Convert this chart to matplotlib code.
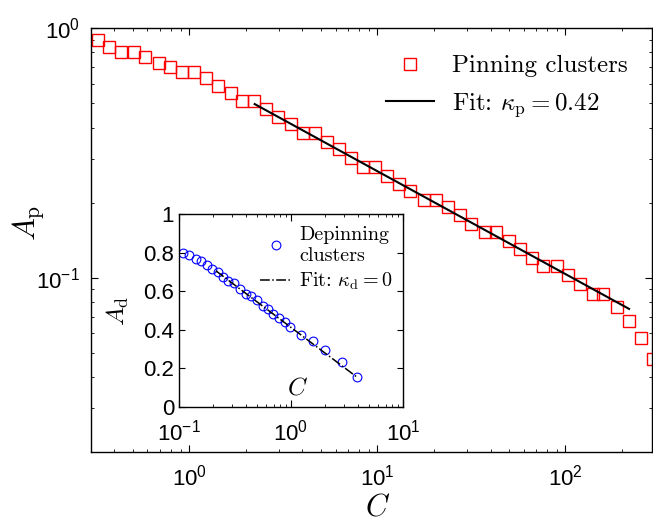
import numpy as np
import matplotlib
matplotlib.use("Agg")
import matplotlib.pyplot as plt
from matplotlib.ticker import FixedLocator, FuncFormatter, LogLocator, NullFormatter

plt.rcParams["font.family"] = ["Liberation Sans", "DejaVu Sans"]
plt.rcParams["mathtext.fontset"] = "cm"

# Pinning clusters (main panel, log-log)
pin_C = [0.327, 0.376, 0.436, 0.507, 0.582, 0.689, 0.793, 0.915, 1.055, 1.222,
         1.415, 1.66, 1.92, 2.22, 2.56, 2.97, 3.46, 4.03, 4.66, 5.38,
         6.25, 7.21, 8.42, 9.70, 11.3, 13.0, 15.0, 17.7, 20.4, 23.7,
         27.4, 31.6, 37.2, 42.7, 49.9, 57.5, 66.4, 76.4, 90.0, 103.7,
         119.7, 139.7, 159.1, 187.5, 217.9, 251.3, 293.0]
pin_A = [0.898, 0.844, 0.801, 0.801, 0.765, 0.728, 0.700, 0.668, 0.668, 0.630,
         0.586, 0.552, 0.511, 0.511, 0.475, 0.442, 0.412, 0.380, 0.380, 0.351,
         0.327, 0.301, 0.279, 0.279, 0.257, 0.238, 0.222, 0.205, 0.205, 0.192,
         0.179, 0.164, 0.152, 0.152, 0.141, 0.131, 0.1205, 0.112, 0.112, 0.1027,
         0.0946, 0.0860, 0.0860, 0.0762, 0.0674, 0.0576, 0.0472]
fit_p_C = [2.23, 217.8]
fit_p_A = [0.497, 0.0751]

# Depinning clusters (inset, semilog x)
dep_C = [0.109, 0.123, 0.141, 0.156, 0.177, 0.196, 0.221, 0.248, 0.275, 0.309,
         0.350, 0.393, 0.444, 0.499, 0.565, 0.626, 0.693, 0.779, 0.881, 0.990,
         1.24, 1.58, 2.00, 2.86, 3.89]
dep_A = [0.80, 0.79, 0.769, 0.755, 0.736, 0.716, 0.702, 0.672, 0.655, 0.641,
         0.610, 0.586, 0.576, 0.555, 0.524, 0.507, 0.483, 0.460, 0.443, 0.412,
         0.374, 0.340, 0.293, 0.231, 0.155]
fit_d_C = [0.213, 3.86]
fit_d_A = [0.706, 0.156]

inset_yticks = [0, 0.2, 0.4, 0.6, 0.8, 1]

fig = plt.figure(figsize=(6.53, 5.23), dpi=100)

# ====== main panel ======
ax = fig.add_axes([0.139, 0.1352, 0.8602, 0.8107])
ax.plot(pin_C, pin_A, ls="none", marker="s", ms=9, mfc="none", mec="#ff0000",
        mew=1.0, label="Pinning clusters")
ax.plot(fit_p_C, fit_p_A, color="black", lw=1.5, label=r"Fit: $\kappa_\mathrm{p} = 0.42$")
ax.set_xscale("log")
ax.set_yscale("log")
ax.set_xlim(0.3, 290)
ax.set_ylim(0.02, 1)
ax.tick_params(which="both", direction="in", top=True, right=True, labelsize=16)
ax.tick_params(which="major", length=5, width=0.8, pad=8)
ax.tick_params(axis="x", which="major", pad=9)
ax.tick_params(which="minor", length=2.5, width=0.6)
ax.xaxis.set_major_locator(LogLocator(base=10, numticks=10))
ax.yaxis.set_minor_formatter(NullFormatter())
for s in ax.spines.values():
    s.set_linewidth(1.0)

ax.set_xlabel(r"$C$", fontsize=22)
ax.xaxis.label.set_va("center")
ax.xaxis.set_label_coords(0.511, -0.13)
ax.set_ylabel(r"$A_\mathrm{p}$", fontsize=22)
ax.yaxis.label.set_va("center")
ax.yaxis.set_label_coords(-0.112, 0.541)

ax.legend(loc="center left", bbox_to_anchor=(0.5256, 0.8616), frameon=False,
          prop={"family": "cmr10", "size": 18}, handlelength=1.9, handletextpad=0.75,
          labelspacing=0.55, borderpad=0, borderaxespad=0)

# ====== inset ======
axi = fig.add_axes([0.2741, 0.2218, 0.3430, 0.3690])
axi.plot(dep_C, dep_A, ls="none", marker="o", ms=6.3, mfc="none", mec="#0000ff",
         mew=0.8, label="Depinning\nclusters")
axi.plot(fit_d_C, fit_d_A, color="black", lw=1.1, ls="-.", label=r"Fit: $\kappa_\mathrm{d} = 0$")
axi.set_xscale("log")
axi.set_xlim(0.1, 10)
axi.set_ylim(0, 1)
axi.yaxis.set_major_locator(FixedLocator(inset_yticks))
axi.yaxis.set_major_formatter(FuncFormatter(lambda v, p: f"{v:g}"))
axi.tick_params(which="both", direction="in", top=True, right=True, labelsize=16)
axi.tick_params(axis="x", which="major", length=5, width=0.8, pad=9)
axi.tick_params(axis="y", which="major", length=4, width=0.8, pad=3.5)
axi.tick_params(which="minor", length=2.5, width=0.6)
for s in axi.spines.values():
    s.set_linewidth(1.0)

axi.set_xlabel(r"$C$", fontsize=18)
axi.xaxis.label.set_va("center")
axi.xaxis.set_label_coords(0.53, 0.10)
axi.set_ylabel(r"$A_\mathrm{d}$", fontsize=18)
axi.yaxis.label.set_va("center")
axi.yaxis.set_label_coords(-0.272, 0.50)

axi.legend(loc="center left", bbox_to_anchor=(0.362, 0.767), frameon=False,
           prop={"family": "cmr10", "size": 14.5}, handlelength=1.55, handletextpad=0.4,
           labelspacing=0.3, borderpad=0, borderaxespad=0)

fig.savefig("out.png", dpi=100)
